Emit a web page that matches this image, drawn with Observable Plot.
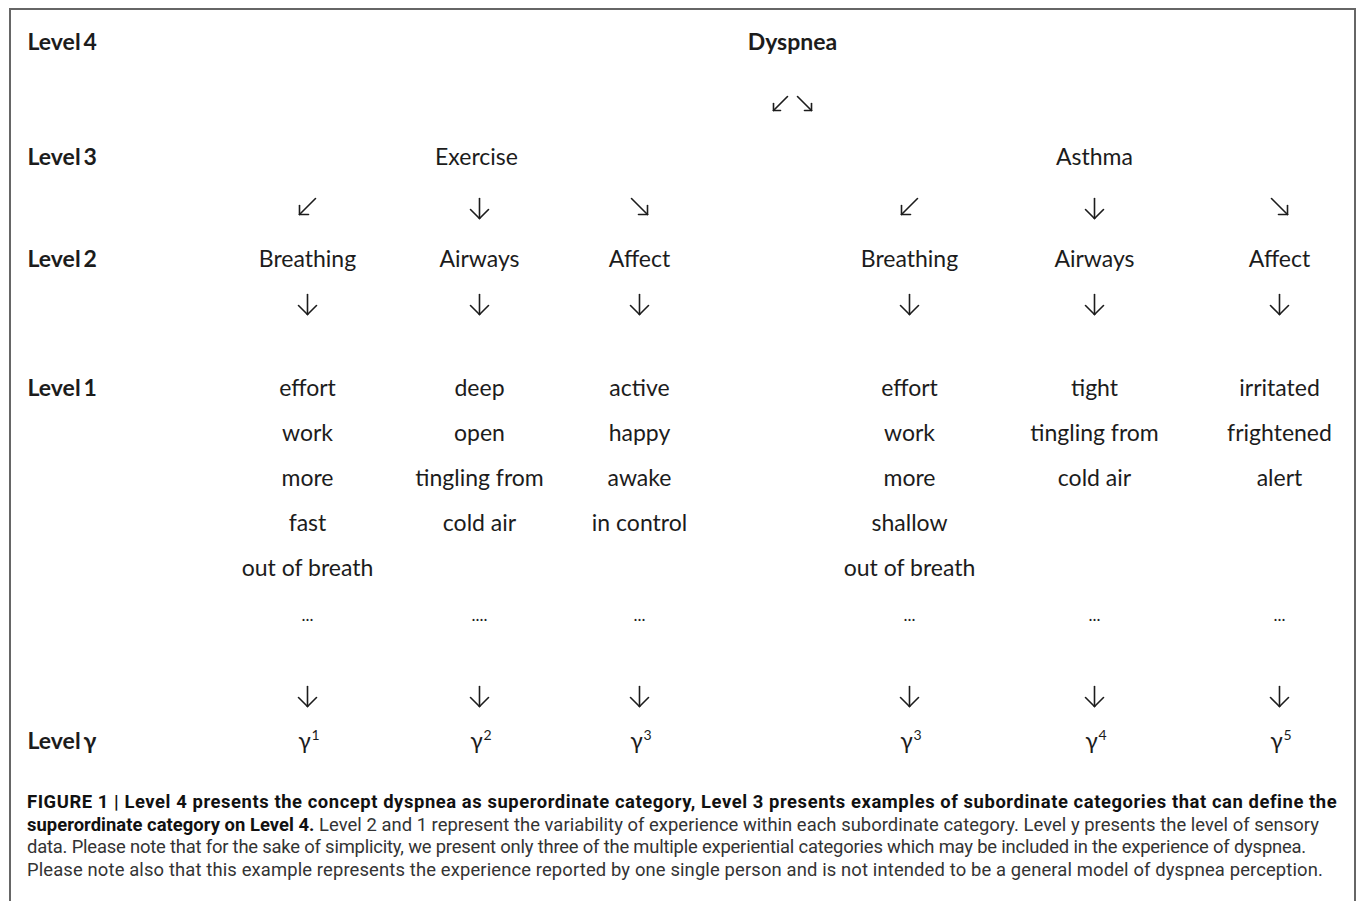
<!DOCTYPE html>
<html>
<head>
<meta charset="utf-8">
<script src="https://cdn.jsdelivr.net/npm/d3@7"></script>
<script src="https://cdn.jsdelivr.net/npm/@observablehq/plot@0.6"></script>
<style>
  html, body { margin: 0; padding: 0; background: #fff; }
  #wrap { position: relative; width: 1357px; height: 901px; overflow: hidden; background: #fff; }
  #frame { position: absolute; left: 9px; top: 8px; width: 1343px; height: 900px;
           border: 2px solid #666; border-bottom: none; }
  #chart { position: absolute; left: 0; top: 0; }
  #caption { position: absolute; left: 27px; top: 791px; width: 1330px;
             font-family: Roboto, "Liberation Sans", sans-serif; font-size: 18.4px;
             line-height: 22.7px; color: #333; white-space: nowrap; }
  #caption .ln { display: block; width: max-content; }
  #caption b { color: #111; font-weight: 700; }
</style>
</head>
<body>
<div id="wrap">
  <div id="frame"></div>
  <div id="chart"></div>
  <div id="caption">
    <span class="ln" data-w="1310"><b>FIGURE 1 | Level 4 presents the concept dyspnea as superordinate category, Level 3 presents examples of subordinate categories that can define the</b></span>
    <span class="ln" data-w="1292"><b>superordinate category on Level 4.</b> Level 2 and 1 represent the variability of experience within each subordinate category. Level y presents the level of sensory</span>
    <span class="ln" data-w="1279">data. Please note that for the sake of simplicity, we present only three of the multiple experiential categories which may be included in the experience of dyspnea.</span>
    <span class="ln" data-w="1296">Please note also that this example represents the experience reported by one single person and is not intended to be a general model of dyspnea perception.</span>
  </div>
</div>
<script>
// ---------- data ----------
const levelLabels = ["Level 4", "Level 3", "Level 2", "Level 1", "Level γ"];
const rootCategory = "Dyspnea";
const subordinate = ["Exercise", "Asthma"];
const experiential = ["Breathing", "Airways", "Affect"];
const exerciseWords = {
  Breathing: ["effort", "work", "more", "fast", "out of breath", "..."],
  Airways: ["deep", "open", "tingling from", "cold air", "...."],
  Affect: ["active", "happy", "awake", "in control", "..."]
};
const asthmaWords = {
  Breathing: ["effort", "work", "more", "shallow", "out of breath", "..."],
  Airways: ["tight", "tingling from", "cold air", "..."],
  Affect: ["irritated", "frightened", "alert", "..."]
};
const sensoryBase = "γ";
const sensoryIndex = ["1", "2", "3", "3", "4", "5"];

// ---------- layout ----------
const W = 1357, H = 775;
const colX = {
  label: 27,
  root: 792,
  Exercise: 476, Asthma: 1094,
  "Exercise-Breathing": 307, "Exercise-Airways": 479, "Exercise-Affect": 639,
  "Asthma-Breathing": 909, "Asthma-Airways": 1094, "Asthma-Affect": 1279
};
const rowY = {
  "Level 4": 42, rootArrows: 103, "Level 3": 157, subArrows: 206,
  "Level 2": 259, expArrows: 304, "Level 1": 388, step1: 45,
  dots: 615, gammaArrows: 696, "Level γ": 741
};

// build tables
const labelsTbl = levelLabels.map(l => ({text: l.replace("Level ", "Level\u2009"), x: colX.label, y: rowY[l]}));
const nodes = [];
const dotsTbl = [];
const supTbl = [];
nodes.push({text: rootCategory, x: colX.root, y: rowY["Level 4"], bold: true});
subordinate.forEach(s => nodes.push({text: s, x: colX[s], y: rowY["Level 3"]}));
const arrows = [];
arrows.push({x: colX.root - 12, y: rowY.rootArrows, dir: "sw", s: 7, w: 7});
arrows.push({x: colX.root + 12, y: rowY.rootArrows, dir: "se", s: 7, w: 7});
let gi = 0;
subordinate.forEach(s => {
  const words = s === "Exercise" ? exerciseWords : asthmaWords;
  experiential.forEach((e, i) => {
    const key = s + "-" + e;
    const x = colX[key];
    arrows.push(i === 1 ? {x, y: rowY.subArrows + 2, dir: "down", s: 10, w: 9}
                        : {x, y: rowY.subArrows, dir: i === 0 ? "sw" : "se", s: 8, w: 9});
    nodes.push({text: e, x, y: rowY["Level 2"]});
    arrows.push({x, y: rowY.expArrows, dir: "down", s: 10, w: 9});
    words[e].forEach((w, j) => {
      if (/^\.+$/.test(w)) dotsTbl.push({text: w, x, y: rowY.dots});
      else nodes.push({text: w, x, y: rowY["Level 1"] + j * rowY.step1});
    });
    arrows.push({x, y: rowY.gammaArrows, dir: "down", s: 10, w: 9});
    supTbl.push({base: sensoryBase, sup: sensoryIndex[gi++], x, y: rowY["Level γ"]});
  });
});
// shafts and wings of the arrows
const segs = [];
arrows.forEach(a => {
  let tip, tail, w1, w2;
  if (a.dir === "down") {
    tail = [a.x, a.y - a.s]; tip = [a.x, a.y + a.s];
    w1 = [a.x - a.w, a.y + a.s - a.w]; w2 = [a.x + a.w, a.y + a.s - a.w];
  } else if (a.dir === "sw") {
    tail = [a.x + a.s, a.y - a.s]; tip = [a.x - a.s, a.y + a.s];
    w1 = [tip[0] + a.w, tip[1]]; w2 = [tip[0], tip[1] - a.w];
  } else {
    tail = [a.x - a.s, a.y - a.s]; tip = [a.x + a.s, a.y + a.s];
    w1 = [tip[0] - a.w, tip[1]]; w2 = [tip[0], tip[1] - a.w];
  }
  segs.push({x1: tail[0], y1: tail[1], x2: tip[0], y2: tip[1]});
  segs.push({x1: w1[0], y1: w1[1], x2: tip[0], y2: tip[1]});
  segs.push({x1: w2[0], y1: w2[1], x2: tip[0], y2: tip[1]});
});

const font = "Lato, 'Open Sans', sans-serif";
const ink = "#1c1c1c";
const chart = Plot.plot({
  width: W, height: H,
  margin: 0,
  x: {domain: [0, W], range: [0, W], axis: null},
  y: {domain: [0, H], range: [0, H], axis: null},
  marks: [
    Plot.text(labelsTbl, {x: "x", y: "y", text: "text", textAnchor: "start", fontFamily: font,
      fontSize: 23, fontWeight: "bold", fill: ink}),
    Plot.text(nodes.filter(d => d.bold), {x: "x", y: "y", text: "text", fontFamily: font,
      fontSize: 23, fontWeight: "bold", fill: ink}),
    Plot.text(nodes.filter(d => !d.bold), {x: "x", y: "y", text: "text", fontFamily: font,
      fontSize: 23, fill: ink, letterSpacing: 0.2}),
    Plot.text(dotsTbl, {x: "x", y: "y", text: "text", fontFamily: font,
      fontSize: 17, fill: ink}),
    Plot.text(supTbl, {x: "x", y: "y", text: "base", fontFamily: font, dx: -3,
      fontSize: 23, fill: ink}),
    Plot.text(supTbl, {x: "x", y: "y", text: "sup", fontFamily: font, dx: 8, dy: -6,
      fontSize: 14, fill: ink}),
    Plot.link(segs, {x1: "x1", y1: "y1", x2: "x2", y2: "y2", stroke: ink, strokeWidth: 1.6,
      strokeLinecap: "round", strokeLinejoin: "round"})
  ]
});
document.getElementById("chart").appendChild(chart);

// fit caption lines to their measured widths in the reference
document.querySelectorAll("#caption .ln").forEach(el => {
  const target = +el.dataset.w;
  const w = el.getBoundingClientRect().width;
  const n = el.textContent.trim().length;
  el.style.letterSpacing = ((target - w) / n) + "px";
});
</script>
</body>
</html>
